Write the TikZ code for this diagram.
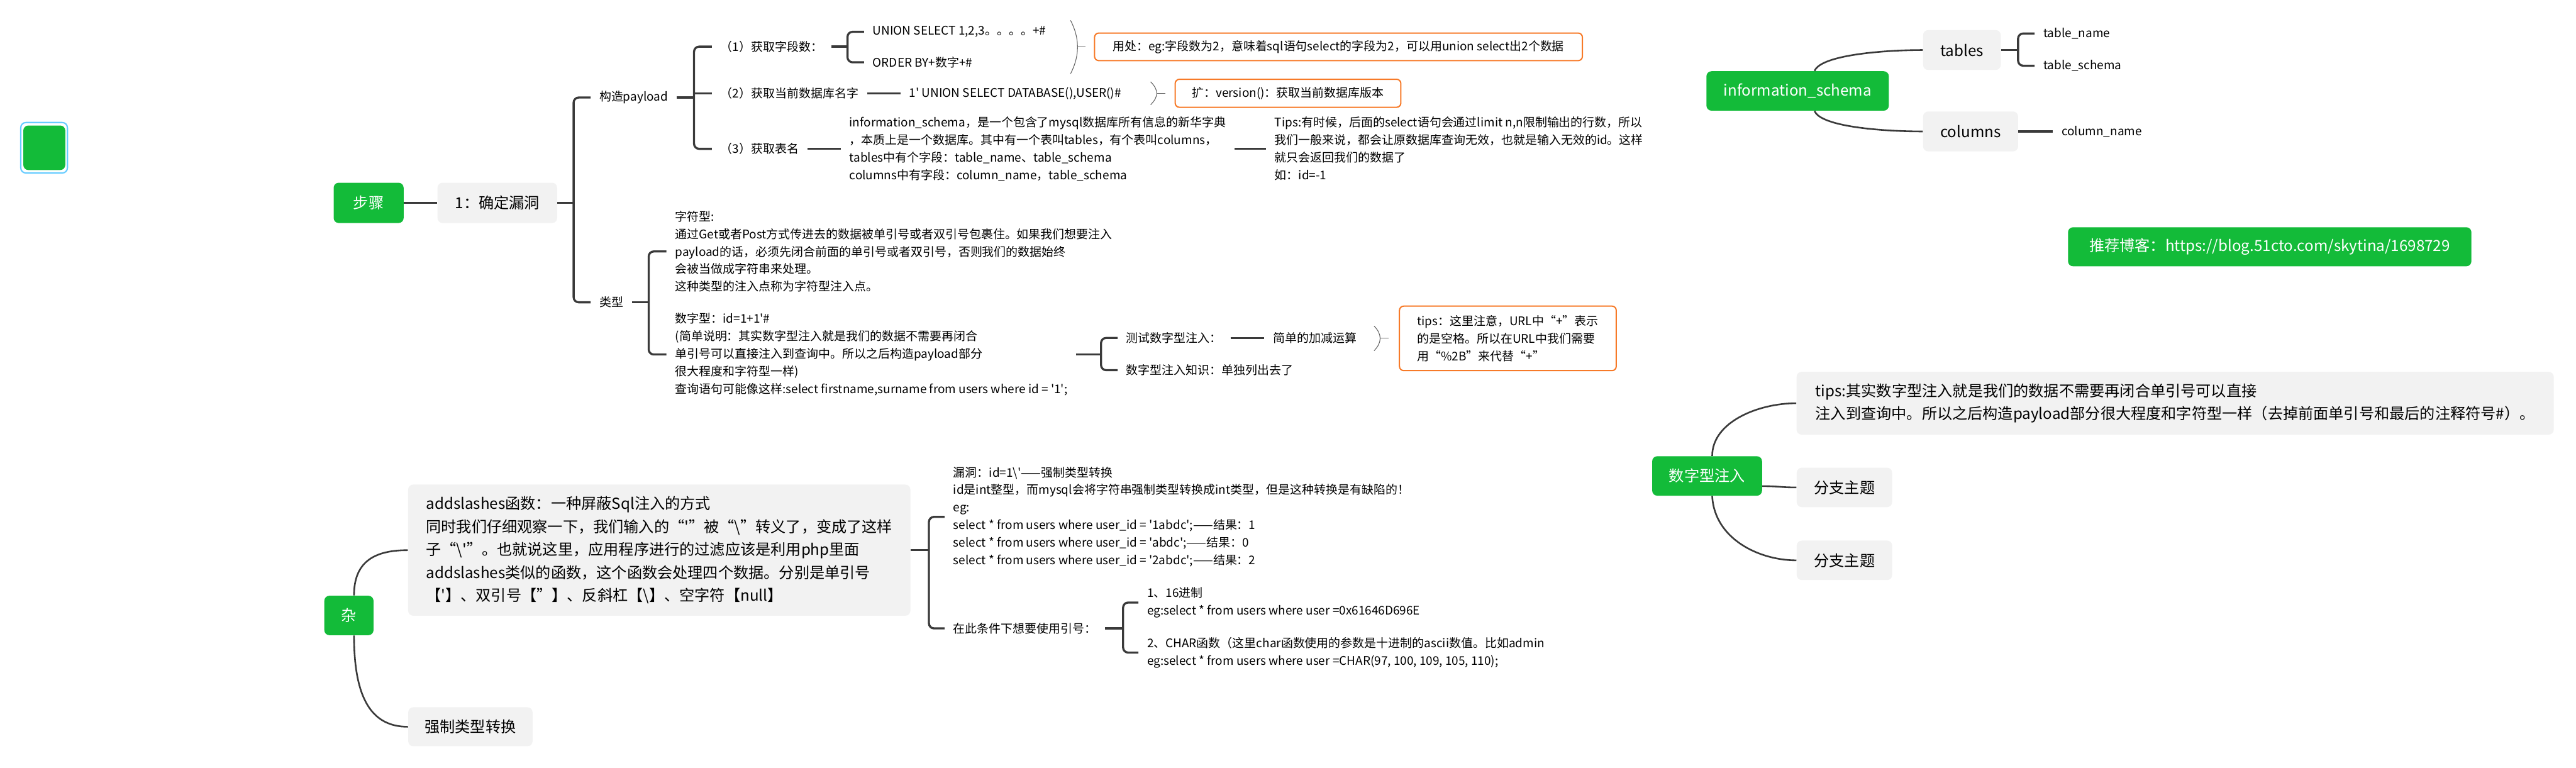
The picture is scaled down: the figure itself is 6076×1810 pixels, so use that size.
\documentclass[tikz,border=0pt]{standalone}
\usepackage{fontspec}
\setmainfont{Noto Sans CJK SC}
\usetikzlibrary{calc}
\definecolor{topicgreen}{RGB}{19,187,57}
\definecolor{subgrey}{RGB}{242,242,242}
\definecolor{linegrey}{RGB}{58,58,58}
\definecolor{noteorange}{RGB}{247,122,40}
\definecolor{selblue}{RGB}{102,204,255}
\newcommand{\sqt}{\textquotesingle}
\begin{document}
\begin{tikzpicture}[x=0.01cm,y=-0.01cm,
    font=\fontsize{8pt}{11.8pt}\selectfont,
    topic/.style={fill=topicgreen,text=white,rounded corners=0.12cm,inner sep=0pt,
      font=\fontsize{10.2pt}{15.4pt}\selectfont},
    subtopic/.style={fill=subgrey,rounded corners=0.12cm,inner sep=0pt,
      font=\fontsize{10.2pt}{15.4pt}\selectfont},
    note/.style={draw=noteorange,line width=0.85pt,fill=white,rounded corners=0.1cm,inner sep=0pt},
    txt/.style={anchor=west,inner xsep=0.2cm,inner ysep=0pt,align=left},
    branch/.style={draw=linegrey,line width=1.4pt,rounded corners=0.12cm},
    twig/.style={draw=linegrey,line width=1.1pt},
    summ/.style={draw=linegrey!80,line width=0.45pt}]
    \useasboundingbox (0,0) rectangle (6076,1810);
    \fill[white] (0,0) rectangle (6076,1810);
    \node[topic,minimum width=0.99cm,minimum height=1.05cm] (blank) at (104.5,348.5) {};
    \draw[selblue,line width=0.9pt,rounded corners=0.12cm] (49,289) rectangle (159,408);
    \node[topic,minimum width=1.65cm,minimum height=0.95cm] (steps) at (869.5,478.5) {步骤};
    \node[subtopic,minimum width=2.82cm,minimum height=0.95cm] (find) at (1173,478.5) {1：确定漏洞};
    \node[txt] (payload) at (1393,230) {构造payload};
    \node[txt] (kind) at (1393,713) {类型};
    \node[txt] (p1) at (1679,110) {（1）获取字段数：};
    \node[txt] (p2) at (1679,220) {（2）获取当前数据库名字};
    \node[txt] (p3) at (1679,351) {（3）获取表名};
    \node[txt] (union) at (2038,75) {UNION SELECT 1,2,3。。。。+\#};
    \node[txt] (order) at (2038,147) {ORDER BY+数字+\#};
    \node[txt] (dbname) at (2124,220) {1\sqt{} UNION SELECT DATABASE(),USER()\#};
    \node[txt] (schema) at (1983,351) {information\_schema，是一个包含了mysql数据库所有信息的新华字典\\，本质上是一个数据库。其中有一个表叫tables，有个表叫columns，\\tables中有个字段：table\_name、table\_schema\\columns中有字段：column\_name，table\_schema};
    \node[txt] (limit) at (2986,351) {Tips:有时候，后面的select语句会通过limit n,n限制输出的行数，所以\\我们一般来说，都会让原数据库查询无效，也就是输入无效的id。这样\\就只会返回我们的数据了\\如：id=-1};
    \node[note,minimum width=11.5cm,minimum height=0.65cm] (use) at (3157,110.5) {用处：eg:字段数为2，意味着sql语句select的字段为2，可以用union select出2个数据};
    \node[note,minimum width=5.32cm,minimum height=0.66cm] (ext) at (3038,220) {扩：version()：获取当前数据库版本};
    \node[txt] (strtype) at (1572,593) {字符型:\\通过Get或者Post方式传进去的数据被单引号或者双引号包裹住。如果我们想要注入\\payload的话，必须先闭合前面的单引号或者双引号，否则我们的数据始终\\会被当做成字符串来处理。\\这种类型的注入点称为字符型注入点。};
    \node[txt] (numtype) at (1572,836) {数字型：id=1+1\sqt\#\\(简单说明：其实数字型注入就是我们的数据不需要再闭合\\单引号可以直接注入到查询中。所以之后构造payload部分\\很大程度和字符型一样)\\查询语句可能像这样:select firstname,surname from users where id = \sqt1\sqt;};
    \node[txt] (numtest) at (2636,797) {测试数字型注入：};
    \node[txt] (arith) at (2982,797) {简单的加减运算};
    \node[txt] (numknow) at (2636,873) {数字型注入知识：单独列出去了};
    \node[note,minimum width=5.11cm,minimum height=1.52cm,align=left] (urltip) at (3556.5,798) {tips：这里注意，URL中“+”表示\\的是空格。所以在URL中我们需要\\用“\%2B”来代替“+”};
    \node[topic,minimum width=4.3cm,minimum height=0.93cm] (infos) at (4240,214.5) {information\_schema};
    \node[subtopic,minimum width=1.83cm,minimum height=0.94cm] (tables) at (4627.5,118) {tables};
    \node[subtopic,minimum width=2.24cm,minimum height=0.94cm] (columns) at (4648,310) {columns};
    \node[txt] (tname) at (4799,79) {table\_name};
    \node[txt] (tschema) at (4799,155) {table\_schema};
    \node[txt] (cname) at (4842,310) {column\_name};
    \node[topic,minimum width=9.51cm,minimum height=0.92cm] (blog) at (5353.5,582) {推荐博客：https://blog.51cto.com/skytina/1698729};
    \node[topic,minimum width=2.59cm,minimum height=0.93cm] (numinj) at (4026.5,1122.5) {数字型注入};
    \node[subtopic,minimum width=17.85cm,minimum height=1.48cm,align=left] (numtip) at (5130.5,951) {tips:其实数字型注入就是我们的数据不需要再闭合单引号可以直接\\注入到查询中。所以之后构造payload部分很大程度和字符型一样（去掉前面单引号和最后的注释符号\#）。};
    \node[subtopic,minimum width=2.25cm,minimum height=0.93cm] (branch1) at (4350.5,1149.5) {分支主题};
    \node[subtopic,minimum width=2.25cm,minimum height=0.93cm] (branch2) at (4350.5,1321.5) {分支主题};
    \node[topic,minimum width=1.16cm,minimum height=0.93cm] (misc) at (823,1451.5) {杂};
    \node[subtopic,minimum width=11.84cm,minimum height=3.09cm,align=left] (addsl) at (1555,1297.5) {addslashes函数：一种屏蔽Sql注入的方式\\同时我们仔细观察一下，我们输入的“\sqt”被“\textbackslash”转义了，变成了这样\\子“\textbackslash\sqt”。也就说这里，应用程序进行的过滤应该是利用php里面\\addslashes类似的函数，这个函数会处理四个数据。分别是单引号\\【\sqt】、双引号【"】、反斜杠【\textbackslash】、空字符【null】};
    \node[subtopic,minimum width=2.93cm,minimum height=0.92cm] (cast) at (1109.5,1714) {强制类型转换};
    \node[txt] (flaw) at (2228,1219) {漏洞：id=1\textbackslash\sqt——强制类型转换\\id是int整型，而mysql会将字符串强制类型转换成int类型，但是这种转换是有缺陷的！\\eg:\\select * from users where user\_id = \sqt1abdc\sqt;——结果：1\\select * from users where user\_id = \sqt abdc\sqt;——结果：0\\select * from users where user\_id = \sqt2abdc\sqt;——结果：2};
    \node[txt] (quote) at (2228,1482) {在此条件下想要使用引号：};
    \node[txt] (hex) at (2685,1421) {1、16进制\\eg:select * from users where user =0x61646D696E};
    \node[txt] (charf) at (2685,1539) {2、CHAR函数（这里char函数使用的参数是十进制的ascii数值。比如admin\\eg:select * from users where user =CHAR(97, 100, 109, 105, 110);};
    \coordinate (j1) at (find.east -| 1353,0);
    \coordinate (j2) at (payload.east -| 1637,0);
    \coordinate (j3) at (p1.east -| 1999,0);
    \coordinate (j4) at (kind.east -| 1530,0);
    \coordinate (j5) at (numtype.east -| 2597,0);
    \coordinate (j6) at (tables.east -| 4760,0);
    \coordinate (j7) at (addsl.east -| 2191,0);
    \coordinate (j8) at (quote.east -| 2649,0);
    \draw[branch] (steps.east) -- (find.west);
    \draw[branch] (find.east) -- (j1);
    \draw[branch] (payload.west) -| (j1) |- (kind.west);
    \draw[branch] (payload.east) -- (j2);
    \draw[branch] (p1.west) -| (j2) |- (p3.west);
    \draw[branch] (j2 |- p2.west) -- (p2.west);
    \draw[branch] (p1.east) -- (j3);
    \draw[branch] (union.west) -| (j3) |- (order.west);
    \draw[branch] (p2.east) -- (dbname.west);
    \draw[branch] (p3.east) -- (schema.west);
    \draw[branch] (schema.east) -- (limit.west);
    \draw[branch] (kind.east) -- (j4);
    \draw[branch] (strtype.west) -| (j4) |- (numtype.west);
    \draw[branch] (numtype.east) -- (j5);
    \draw[branch] (numtest.west) -| (j5) |- (numknow.west);
    \draw[branch] (numtest.east) -- (arith.west);
    \draw[branch] (tables.east) -- (j6);
    \draw[branch] (tname.west) -| (j6) |- (tschema.west);
    \draw[branch] (columns.east) -- (cname.west);
    \draw[branch] (addsl.east) -- (j7);
    \draw[branch] (flaw.west) -| (j7) |- (quote.west);
    \draw[branch] (quote.east) -- (j8);
    \draw[branch] (hex.west) -| (j8) |- (charf.west);
    \draw[twig] ($(infos.north)+(40,0)$) .. controls +(15,-38) and +(-90,0) .. (tables.west);
    \draw[twig] ($(infos.south)+(40,0)$) .. controls +(15,38) and +(-90,0) .. (columns.west);
    \draw[twig] ($(misc.north)+(12,0)$) .. controls +(0,-75) and +(-85,0) .. (addsl.west);
    \draw[twig] ($(misc.south)+(12,0)$) .. controls +(0,150) and +(-85,0) .. (cast.west);
    \draw[twig] ($(numinj.north)+(12,0)$) .. controls +(0,-80) and +(-90,0) .. (numtip.west);
    \draw[twig] ($(numinj.east)+(0,24)$) .. controls +(40,0) and +(-40,0) .. (branch1.west);
    \draw[twig] ($(numinj.south)+(12,0)$) .. controls +(5,100) and +(-90,0) .. (branch2.west);
    \draw[summ] (2525,48) .. controls (2547,90) and (2547,132) .. (2525,174);
    \coordinate (s1) at (2542,110.5);
    \draw[summ] (s1) -- ++(19,0);
    \draw[summ] (2714,193) .. controls (2733,212) and (2733,228) .. (2714,247);
    \coordinate (s2) at (2729,220);
    \draw[summ] (s2) -- ++(19,0);
    \draw[summ] (3241,769) .. controls (3260,788) and (3260,808) .. (3241,827);
    \coordinate (s3) at (3256,798);
    \draw[summ] (s3) -- ++(19,0);
  \end{tikzpicture}
\end{document}
